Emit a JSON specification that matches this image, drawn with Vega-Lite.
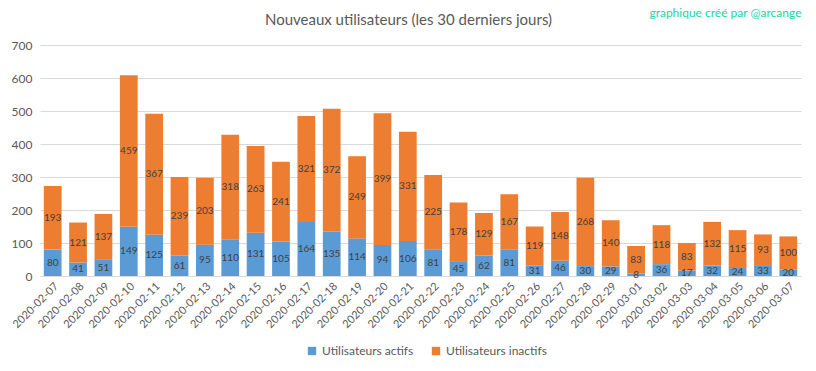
{
  "$schema": "https://vega.github.io/schema/vega-lite/v6.json",
  "width": 761,
  "height": 231,
  "autosize": {"type": "none"},
  "padding": {"left": 40, "top": 45, "right": 15, "bottom": 95},
  "background": "white",
  "config": {
    "font": "Lato",
    "view": {"stroke": null},
    "axis": {"labelFont": "Lato", "titleFont": "Lato"},
    "legend": {"labelFont": "Lato"}
  },
  "title": {
    "text": "Nouveaux utilisateurs (les 30 derniers jours)",
    "fontSize": 15,
    "fontWeight": "normal",
    "color": "#595959",
    "anchor": "middle",
    "dx": -12,
    "offset": -22
  },
  "data": {
    "values": [
      {"date": "2020-02-07", "serie": "Utilisateurs actifs", "n": 80},
      {"date": "2020-02-08", "serie": "Utilisateurs actifs", "n": 41},
      {"date": "2020-02-09", "serie": "Utilisateurs actifs", "n": 51},
      {"date": "2020-02-10", "serie": "Utilisateurs actifs", "n": 149},
      {"date": "2020-02-11", "serie": "Utilisateurs actifs", "n": 125},
      {"date": "2020-02-12", "serie": "Utilisateurs actifs", "n": 61},
      {"date": "2020-02-13", "serie": "Utilisateurs actifs", "n": 95},
      {"date": "2020-02-14", "serie": "Utilisateurs actifs", "n": 110},
      {"date": "2020-02-15", "serie": "Utilisateurs actifs", "n": 131},
      {"date": "2020-02-16", "serie": "Utilisateurs actifs", "n": 105},
      {"date": "2020-02-17", "serie": "Utilisateurs actifs", "n": 164},
      {"date": "2020-02-18", "serie": "Utilisateurs actifs", "n": 135},
      {"date": "2020-02-19", "serie": "Utilisateurs actifs", "n": 114},
      {"date": "2020-02-20", "serie": "Utilisateurs actifs", "n": 94},
      {"date": "2020-02-21", "serie": "Utilisateurs actifs", "n": 106},
      {"date": "2020-02-22", "serie": "Utilisateurs actifs", "n": 81},
      {"date": "2020-02-23", "serie": "Utilisateurs actifs", "n": 45},
      {"date": "2020-02-24", "serie": "Utilisateurs actifs", "n": 62},
      {"date": "2020-02-25", "serie": "Utilisateurs actifs", "n": 81},
      {"date": "2020-02-26", "serie": "Utilisateurs actifs", "n": 31},
      {"date": "2020-02-27", "serie": "Utilisateurs actifs", "n": 46},
      {"date": "2020-02-28", "serie": "Utilisateurs actifs", "n": 30},
      {"date": "2020-02-29", "serie": "Utilisateurs actifs", "n": 29},
      {"date": "2020-03-01", "serie": "Utilisateurs actifs", "n": 8},
      {"date": "2020-03-02", "serie": "Utilisateurs actifs", "n": 36},
      {"date": "2020-03-03", "serie": "Utilisateurs actifs", "n": 17},
      {"date": "2020-03-04", "serie": "Utilisateurs actifs", "n": 32},
      {"date": "2020-03-05", "serie": "Utilisateurs actifs", "n": 24},
      {"date": "2020-03-06", "serie": "Utilisateurs actifs", "n": 33},
      {"date": "2020-03-07", "serie": "Utilisateurs actifs", "n": 20},
      {"date": "2020-02-07", "serie": "Utilisateurs inactifs", "n": 193},
      {"date": "2020-02-08", "serie": "Utilisateurs inactifs", "n": 121},
      {"date": "2020-02-09", "serie": "Utilisateurs inactifs", "n": 137},
      {"date": "2020-02-10", "serie": "Utilisateurs inactifs", "n": 459},
      {"date": "2020-02-11", "serie": "Utilisateurs inactifs", "n": 367},
      {"date": "2020-02-12", "serie": "Utilisateurs inactifs", "n": 239},
      {"date": "2020-02-13", "serie": "Utilisateurs inactifs", "n": 203},
      {"date": "2020-02-14", "serie": "Utilisateurs inactifs", "n": 318},
      {"date": "2020-02-15", "serie": "Utilisateurs inactifs", "n": 263},
      {"date": "2020-02-16", "serie": "Utilisateurs inactifs", "n": 241},
      {"date": "2020-02-17", "serie": "Utilisateurs inactifs", "n": 321},
      {"date": "2020-02-18", "serie": "Utilisateurs inactifs", "n": 372},
      {"date": "2020-02-19", "serie": "Utilisateurs inactifs", "n": 249},
      {"date": "2020-02-20", "serie": "Utilisateurs inactifs", "n": 399},
      {"date": "2020-02-21", "serie": "Utilisateurs inactifs", "n": 331},
      {"date": "2020-02-22", "serie": "Utilisateurs inactifs", "n": 225},
      {"date": "2020-02-23", "serie": "Utilisateurs inactifs", "n": 178},
      {"date": "2020-02-24", "serie": "Utilisateurs inactifs", "n": 129},
      {"date": "2020-02-25", "serie": "Utilisateurs inactifs", "n": 167},
      {"date": "2020-02-26", "serie": "Utilisateurs inactifs", "n": 119},
      {"date": "2020-02-27", "serie": "Utilisateurs inactifs", "n": 148},
      {"date": "2020-02-28", "serie": "Utilisateurs inactifs", "n": 268},
      {"date": "2020-02-29", "serie": "Utilisateurs inactifs", "n": 140},
      {"date": "2020-03-01", "serie": "Utilisateurs inactifs", "n": 83},
      {"date": "2020-03-02", "serie": "Utilisateurs inactifs", "n": 118},
      {"date": "2020-03-03", "serie": "Utilisateurs inactifs", "n": 83},
      {"date": "2020-03-04", "serie": "Utilisateurs inactifs", "n": 132},
      {"date": "2020-03-05", "serie": "Utilisateurs inactifs", "n": 115},
      {"date": "2020-03-06", "serie": "Utilisateurs inactifs", "n": 93},
      {"date": "2020-03-07", "serie": "Utilisateurs inactifs", "n": 100}
    ]
  },
  "transform": [
    {"stack": "n", "groupby": ["date"], "sort": [{"field": "serie", "order": "ascending"}], "as": ["n0", "n1"]}
  ],
  "layer": [
    {
      "mark": {"type": "bar"},
      "encoding": {
        "x": {
          "field": "date", "type": "ordinal",
          "scale": {"paddingInner": 0.3, "paddingOuter": 0.15},
          "axis": {
            "title": null, "labelAngle": -45, "labelAlign": "right", "labelBaseline": "top",
            "labelFontSize": 11, "labelColor": "#595959", "ticks": false,
            "domainColor": "#d9d9d9", "labelPadding": 4
          }
        },
        "y": {
          "field": "n0", "type": "quantitative",
          "scale": {"domain": [0, 700], "nice": false},
          "axis": {
            "title": null, "values": [0, 100, 200, 300, 400, 500, 600, 700],
            "grid": true, "gridColor": "#d9d9d9", "domain": false, "ticks": false,
            "labelColor": "#595959", "labelFontSize": 12, "labelPadding": 8
          }
        },
        "y2": {"field": "n1"},
        "color": {
          "field": "serie", "type": "nominal",
          "scale": {"domain": ["Utilisateurs actifs", "Utilisateurs inactifs"], "range": ["#5B9BD5", "#ED7D31"]},
          "legend": {
            "title": null, "orient": "none", "legendX": 266, "legendY": 300, "direction": "horizontal",
            "symbolType": "square", "symbolSize": 70, "symbolStrokeWidth": 0,
            "labelFontSize": 12, "labelColor": "#595959", "columnPadding": 16
          }
        }
      }
    },
    {
      "transform": [
        {"fold": ["n0", "n1"], "as": ["bord", "pos"]}
      ],
      "mark": {"type": "text", "fontSize": 10, "color": "#404040", "baseline": "middle"},
      "encoding": {
        "x": {
          "field": "date", "type": "ordinal",
          "axis": {
            "orient": "top", "labels": false, "ticks": false, "domain": false, "grid": false,
            "title": "graphique créé par @arcange", "titleAnchor": "end", "titleColor": "#1DD3A4",
            "titleFontSize": 12, "titleFontWeight": "normal", "titlePadding": 26
          }
        },
        "y": {
          "field": "pos", "type": "quantitative", "aggregate": "mean", "stack": null,
          "axis": {
            "title": null, "values": [0, 100, 200, 300, 400, 500, 600, 700],
            "grid": true, "gridColor": "#d9d9d9", "domain": false, "ticks": false,
            "labelColor": "#595959", "labelFontSize": 12, "labelPadding": 8
          }
        },
        "detail": {"field": "serie", "type": "nominal"},
        "text": {"field": "n", "type": "quantitative"}
      }
    }
  ],
  "resolve": {"axis": {"x": "independent"}}
}
